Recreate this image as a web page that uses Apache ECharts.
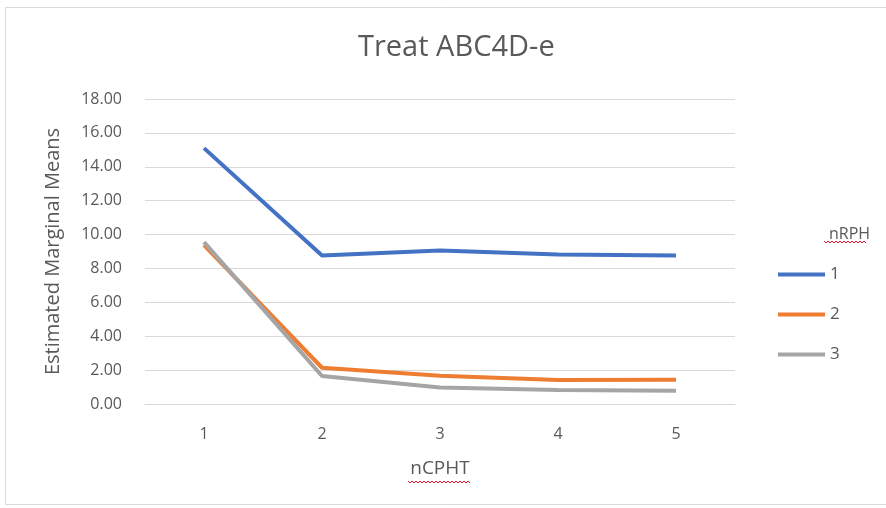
<!DOCTYPE html>
<html lang="en">
<head>
    <meta charset="UTF-8">
    <title>Treat ABC4D-e</title>
    <style>
        html, body { margin: 0; padding: 0; background: #fff; }
        #main { width: 886px; height: 508px; }
    </style>
</head>
<body>
<div id="main"></div>
<script src="https://cdn.jsdelivr.net/npm/echarts@6/dist/echarts.min.js"></script>
<script>
    // data
    var categories = ['1', '2', '3', '4', '5'];
    var seriesNames = ['1', '2', '3'];
    var rph1 = [15.10, 8.77, 9.06, 8.83, 8.77];
    var rph2 = [9.37, 2.14, 1.67, 1.42, 1.43];
    var rph3 = [9.55, 1.65, 0.97, 0.82, 0.78];
    var colors = ['#4472C4', '#ED7D31', '#A5A5A5'];

    var font = '"Open Sans", "DejaVu Sans", sans-serif';
    var textColor = '#595959';

    var myChart = echarts.init(document.getElementById('main'));

    var values = [rph1, rph2, rph3];
    var series = [];
    for (var i = 0; i < values.length; i++) {
        series.push({
            name: seriesNames[i],
            type: 'line',
            data: values[i],
            symbol: 'none',
            lineStyle: {width: 4, color: colors[i]},
            itemStyle: {color: colors[i]},
            z: 2 + i
        });
    }

    // small red squiggle like the spell-check underline
    function squiggle(x, y, w) {
        var pts = [];
        for (var k = 0; k <= w; k += 2) {
            pts.push([x + k, y + ((k / 2) % 2 === 0 ? 0 : 2)]);
        }
        return {
            type: 'polyline',
            shape: {points: pts},
            style: {stroke: '#e8152b', lineWidth: 1, fill: null},
            silent: true
        };
    }

    var option = {
        backgroundColor: '#fff',
        animation: false,
        title: [{
            text: 'Treat ABC4D-e',
            left: 353,
            top: 28,
            textStyle: {fontFamily: font, fontSize: 29, fontWeight: 'normal', color: textColor}
        }, {
            text: 'nRPH',
            left: 824,
            top: 221,
            textStyle: {fontFamily: font, fontSize: 16, fontWeight: 'normal', color: textColor}
        }],
        legend: {
            data: seriesNames,
            orient: 'vertical',
            left: 773,
            top: 261,
            itemGap: 23,
            itemWidth: 47,
            itemHeight: 4,
            icon: 'rect',
            textStyle: {fontFamily: font, fontSize: 17, color: textColor}
        },
        grid: {
            left: 145,
            right: 151,
            top: 99,
            bottom: 104,
            containLabel: false
        },
        xAxis: {
            type: 'category',
            data: categories,
            boundaryGap: true,
            name: 'nCPHT',
            nameLocation: 'middle',
            nameGap: 55,
            nameTextStyle: {fontFamily: font, fontSize: 19, color: textColor},
            axisLine: {lineStyle: {color: '#d9d9d9'}},
            axisTick: {show: false},
            axisLabel: {fontFamily: font, fontSize: 16, color: textColor, margin: 22}
        },
        yAxis: {
            type: 'value',
            min: 0,
            max: 18,
            interval: 2,
            name: 'Estimated Marginal Means',
            nameLocation: 'middle',
            nameGap: 82,
            nameTextStyle: {fontFamily: font, fontSize: 20, color: textColor},
            axisLine: {show: false},
            axisTick: {show: false},
            axisLabel: {
                fontFamily: font, fontSize: 16, color: textColor, margin: 23,
                formatter: function (v) { return v.toFixed(2); }
            },
            splitLine: {lineStyle: {color: '#d9d9d9', width: 1}}
        },
        graphic: [
            {
                type: 'rect',
                shape: {x: 5.5, y: 7.5, width: 890, height: 497},
                style: {fill: null, stroke: '#d9d9d9', lineWidth: 1},
                silent: true
            },
            squiggle(824, 241, 42),
            squiggle(408, 481, 62)
        ],
        series: series
    };

    myChart.setOption(option);
</script>
</body>
</html>
